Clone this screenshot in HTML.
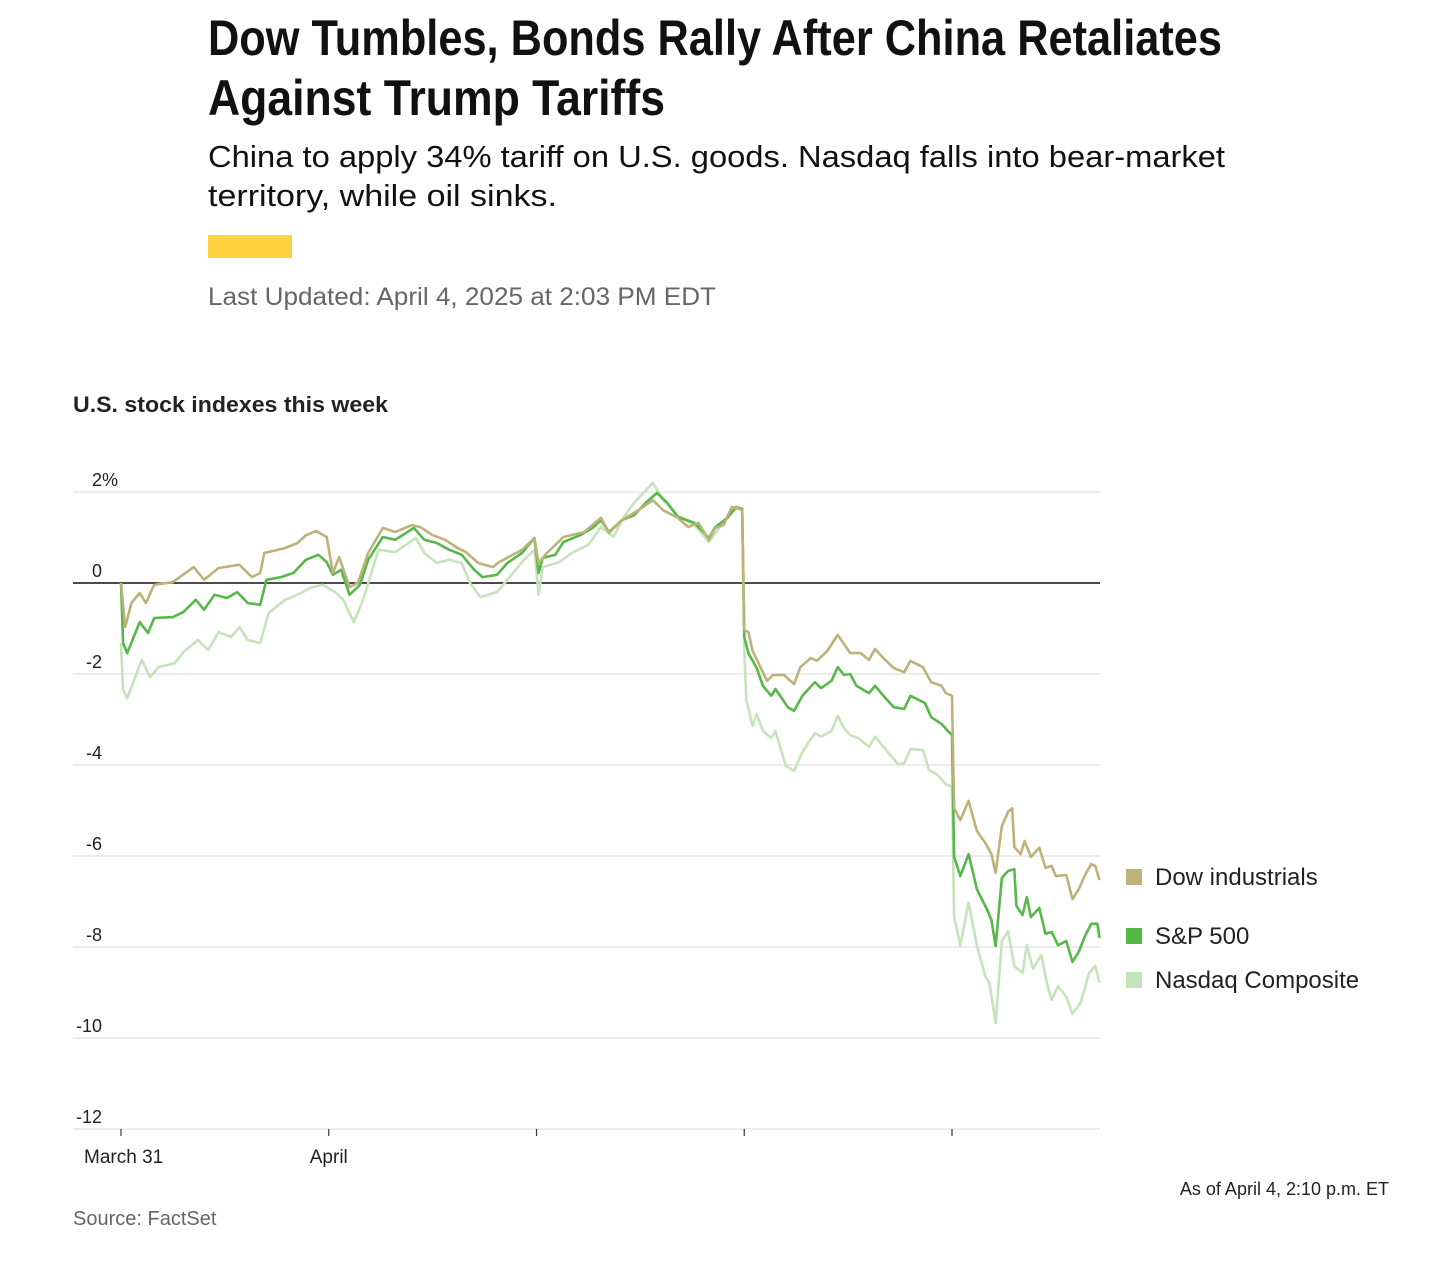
<!DOCTYPE html>
<html><head><meta charset="utf-8"><style>
html,body{margin:0;padding:0;background:#fff;}
svg{display:block;}
text{font-family:"Liberation Sans",sans-serif;}
</style></head><body>
<svg width="1456" height="1270" viewBox="0 0 1456 1270">
<text x="208" y="55" font-size="50" font-weight="bold" fill="#111" textLength="1014" lengthAdjust="spacingAndGlyphs">Dow Tumbles, Bonds Rally After China Retaliates</text>
<text x="208" y="115" font-size="50" font-weight="bold" fill="#111" textLength="457" lengthAdjust="spacingAndGlyphs">Against Trump Tariffs</text>
<text x="208" y="167" font-size="31" fill="#111" textLength="1017" lengthAdjust="spacingAndGlyphs">China to apply 34% tariff on U.S. goods. Nasdaq falls into bear-market</text>
<text x="208" y="206" font-size="31" fill="#111" textLength="349" lengthAdjust="spacingAndGlyphs">territory, while oil sinks.</text>
<rect x="208" y="235" width="84" height="23" fill="#ffd340"/>
<text x="208" y="305" font-size="25" fill="#666" textLength="508" lengthAdjust="spacingAndGlyphs">Last Updated: April 4, 2025 at 2:03 PM EDT</text>
<text x="73" y="412" font-size="22" font-weight="bold" fill="#222" textLength="315" lengthAdjust="spacingAndGlyphs">U.S. stock indexes this week</text>
<g id="grid"></g>
<g id="series"></g>
<g id="xaxis"></g>
<g>
<rect x="1126" y="869" width="16" height="16" fill="#bdb27a"/>
<text x="1155" y="885" font-size="24" fill="#222">Dow industrials</text>
<rect x="1126" y="928" width="16" height="16" fill="#57b84a"/>
<text x="1155" y="944" font-size="24" fill="#222">S&amp;P 500</text>
<rect x="1126" y="972" width="16" height="16" fill="#c6e4bb"/>
<text x="1155" y="988" font-size="24" fill="#222">Nasdaq Composite</text>
</g>
<text x="1389" y="1195" font-size="18" fill="#222" text-anchor="end">As of April 4, 2:10 p.m. ET</text>
<text x="73" y="1225" font-size="20" fill="#666">Source: FactSet</text>
</svg>
<script>
const yTicks = [2, 0, -2, -4, -6, -8, -10, -12];
const yTickLabels = ["2%", "0", "-2", "-4", "-6", "-8", "-10", "-12"];
const xTicks = [0, 1, 2, 3, 4];
const xTickLabels = ["March 31", "April", "", "", ""];
const dowT = [0,0.02,0.05,0.09,0.12,0.16,0.25,0.35,0.40,0.47,0.57,0.63,0.67,0.69,0.79,0.85,0.89,0.94,0.99,1.02,1.05,1.10,1.14,1.19,1.26,1.32,1.40,1.44,1.50,1.56,1.62,1.66,1.72,1.79,1.82,1.93,1.99,2.01,2.05,2.13,2.23,2.31,2.35,2.41,2.49,2.56,2.61,2.68,2.73,2.78,2.83,2.86,2.90,2.94,2.98,2.99,3.00,3.02,3.04,3.08,3.11,3.14,3.19,3.24,3.27,3.32,3.35,3.40,3.45,3.48,3.51,3.56,3.60,3.63,3.67,3.72,3.77,3.80,3.86,3.90,3.95,3.97,4.00,4.01,4.04,4.08,4.12,4.16,4.19,4.21,4.24,4.27,4.29,4.30,4.33,4.35,4.38,4.42,4.45,4.48,4.50,4.55,4.58,4.61,4.64,4.67,4.69,4.71];
const dowV = [0,-0.97,-0.44,-0.22,-0.44,-0.04,0.02,0.35,0.07,0.33,0.40,0.13,0.22,0.66,0.77,0.88,1.05,1.14,1.01,0.22,0.57,-0.09,0,0.66,1.21,1.12,1.27,1.23,1.05,0.95,0.77,0.68,0.44,0.35,0.46,0.73,0.99,0.44,0.66,1.01,1.12,1.43,1.10,1.38,1.60,1.82,1.60,1.43,1.23,1.32,0.95,1.21,1.27,1.67,1.63,1.58,-1.03,-1.08,-1.49,-1.87,-2.15,-2.02,-2.02,-2.22,-1.85,-1.65,-1.71,-1.49,-1.14,-1.34,-1.54,-1.54,-1.69,-1.45,-1.65,-1.87,-1.96,-1.71,-1.85,-2.18,-2.26,-2.42,-2.48,-4.95,-5.21,-4.79,-5.45,-5.71,-5.96,-6.37,-5.34,-5.03,-4.95,-5.80,-5.96,-5.67,-6.02,-5.82,-6.26,-6.22,-6.44,-6.42,-6.95,-6.73,-6.42,-6.18,-6.22,-6.53];
const spT = [0,0.01,0.03,0.09,0.13,0.16,0.25,0.30,0.36,0.40,0.45,0.51,0.56,0.61,0.67,0.70,0.77,0.83,0.89,0.95,0.99,1.02,1.06,1.10,1.15,1.19,1.26,1.32,1.41,1.46,1.52,1.58,1.64,1.70,1.74,1.81,1.86,1.93,1.99,2.01,2.03,2.09,2.13,2.21,2.27,2.31,2.35,2.41,2.47,2.53,2.58,2.63,2.68,2.76,2.83,2.86,2.92,2.96,2.99,3.00,3.02,3.06,3.09,3.13,3.15,3.21,3.24,3.28,3.34,3.37,3.42,3.45,3.48,3.51,3.54,3.60,3.63,3.67,3.72,3.77,3.80,3.87,3.90,3.95,3.98,4.00,4.01,4.04,4.08,4.12,4.17,4.19,4.21,4.24,4.27,4.30,4.31,4.34,4.36,4.38,4.42,4.45,4.48,4.51,4.55,4.58,4.61,4.64,4.67,4.70,4.71];
const spV = [0,-1.32,-1.54,-0.86,-1.10,-0.77,-0.75,-0.64,-0.37,-0.59,-0.26,-0.33,-0.20,-0.44,-0.48,0.07,0.13,0.22,0.51,0.62,0.46,0.18,0.29,-0.26,-0.04,0.51,1.01,0.95,1.21,0.95,0.88,0.73,0.62,0.29,0.13,0.18,0.44,0.66,0.99,0.22,0.55,0.62,0.90,1.05,1.21,1.38,1.12,1.38,1.49,1.78,1.98,1.76,1.45,1.32,0.99,1.23,1.43,1.67,1.63,-1.19,-1.54,-1.87,-2.26,-2.48,-2.33,-2.73,-2.81,-2.48,-2.18,-2.31,-2.15,-1.85,-2.02,-2.00,-2.26,-2.42,-2.26,-2.48,-2.73,-2.77,-2.48,-2.64,-2.95,-3.10,-3.25,-3.34,-6.02,-6.44,-5.96,-6.73,-7.19,-7.41,-7.98,-6.48,-6.33,-6.29,-7.10,-7.30,-6.90,-7.34,-7.14,-7.71,-7.67,-7.96,-7.87,-8.33,-8.11,-7.76,-7.49,-7.49,-7.80];
const ndT = [0,0.01,0.03,0.10,0.14,0.18,0.26,0.30,0.37,0.42,0.47,0.53,0.57,0.61,0.67,0.71,0.79,0.85,0.91,0.97,1.03,1.07,1.12,1.16,1.24,1.32,1.42,1.46,1.52,1.58,1.64,1.68,1.73,1.81,1.86,1.94,1.99,2.01,2.03,2.11,2.17,2.25,2.31,2.37,2.42,2.47,2.56,2.61,2.68,2.76,2.83,2.88,2.93,2.97,2.99,3.00,3.01,3.04,3.06,3.09,3.13,3.15,3.20,3.24,3.28,3.34,3.37,3.42,3.45,3.48,3.51,3.55,3.60,3.63,3.69,3.74,3.77,3.80,3.86,3.89,3.93,3.97,4.00,4.01,4.04,4.08,4.12,4.16,4.18,4.21,4.24,4.27,4.30,4.34,4.36,4.39,4.43,4.46,4.48,4.51,4.55,4.58,4.62,4.66,4.69,4.71];
const ndV = [-1.32,-2.35,-2.53,-1.69,-2.07,-1.85,-1.76,-1.52,-1.25,-1.47,-1.08,-1.19,-0.97,-1.25,-1.32,-0.66,-0.37,-0.26,-0.11,-0.04,-0.20,-0.37,-0.86,-0.44,0.73,0.68,0.99,0.66,0.44,0.51,0.44,0.00,-0.31,-0.20,0.07,0.51,0.73,-0.26,0.35,0.46,0.66,0.84,1.23,1.01,1.45,1.76,2.20,1.82,1.49,1.27,0.90,1.21,1.54,1.65,1.58,-1.49,-2.57,-3.14,-2.88,-3.25,-3.41,-3.25,-4.02,-4.13,-3.71,-3.30,-3.38,-3.25,-2.92,-3.19,-3.34,-3.41,-3.60,-3.38,-3.71,-3.98,-3.96,-3.65,-3.67,-4.11,-4.22,-4.42,-4.48,-7.34,-7.96,-7.03,-7.96,-8.64,-8.79,-9.67,-7.87,-7.65,-8.42,-8.57,-7.96,-8.48,-8.18,-8.86,-9.16,-8.86,-9.10,-9.47,-9.21,-8.57,-8.42,-8.79];

const NS = "http://www.w3.org/2000/svg";
const X0 = 121, DAYW = 207.75, Y0 = 583, PCT = 45.5, LEFT = 73, RIGHT = 1100;
function xs(t){ return X0 + t * DAYW; }
function ys(v){ return Y0 - v * PCT; }
function mk(tag, attrs, parent){ const e = document.createElementNS(NS, tag); for (const k in attrs) e.setAttribute(k, attrs[k]); parent.appendChild(e); return e; }

const grid = document.getElementById('grid');
yTicks.forEach((v, i) => {
  const ln = mk('line', {x1: LEFT, x2: RIGHT, y1: ys(v), y2: ys(v), stroke: v === 0 ? '#111' : '#d8d8d8', 'stroke-width': v === 0 ? 1.5 : 1}, grid);
  
  
  const lab = yTickLabels[i];
  const tx = mk('text', {x: lab.endsWith('%') ? 92 : 102, y: ys(v) - 6, 'font-size': 18, fill: '#222', 'text-anchor': lab.endsWith('%') ? 'start' : 'end'}, grid);
  tx.textContent = lab;
  
  
});

const xa = document.getElementById('xaxis');
xTicks.forEach((t, i) => {
  const tk = mk('line', {x1: xs(t), x2: xs(t), y1: ys(-12), y2: ys(-12) + 7, stroke: '#333', 'stroke-width': 1.2}, xa);
  
  
  if (xTickLabels[i]) {
    const tx = mk('text', {x: xs(t) - 37 + (i === 1 ? 18 : 0), y: 1163, 'font-size': 19, fill: '#222'}, xa);
    tx.textContent = xTickLabels[i];
    
    
  }
});

const sg = document.getElementById('series');
function line(T, V, color, name){
  const d = T.map((t, i) => (i ? 'L' : 'M') + xs(t).toFixed(1) + ',' + ys(V[i]).toFixed(1)).join('');
  const p = mk('path', {d: d, fill: 'none', stroke: color, 'stroke-width': 2.6, 'stroke-linejoin': 'round'}, sg);
  
  
}
line(ndT, ndV, '#c6e4bb', 'nasdaq-line');
line(spT, spV, '#57b84a', 'sp500-line');
line(dowT, dowV, '#bdb27a', 'dow-line');
</script>
</body></html>
